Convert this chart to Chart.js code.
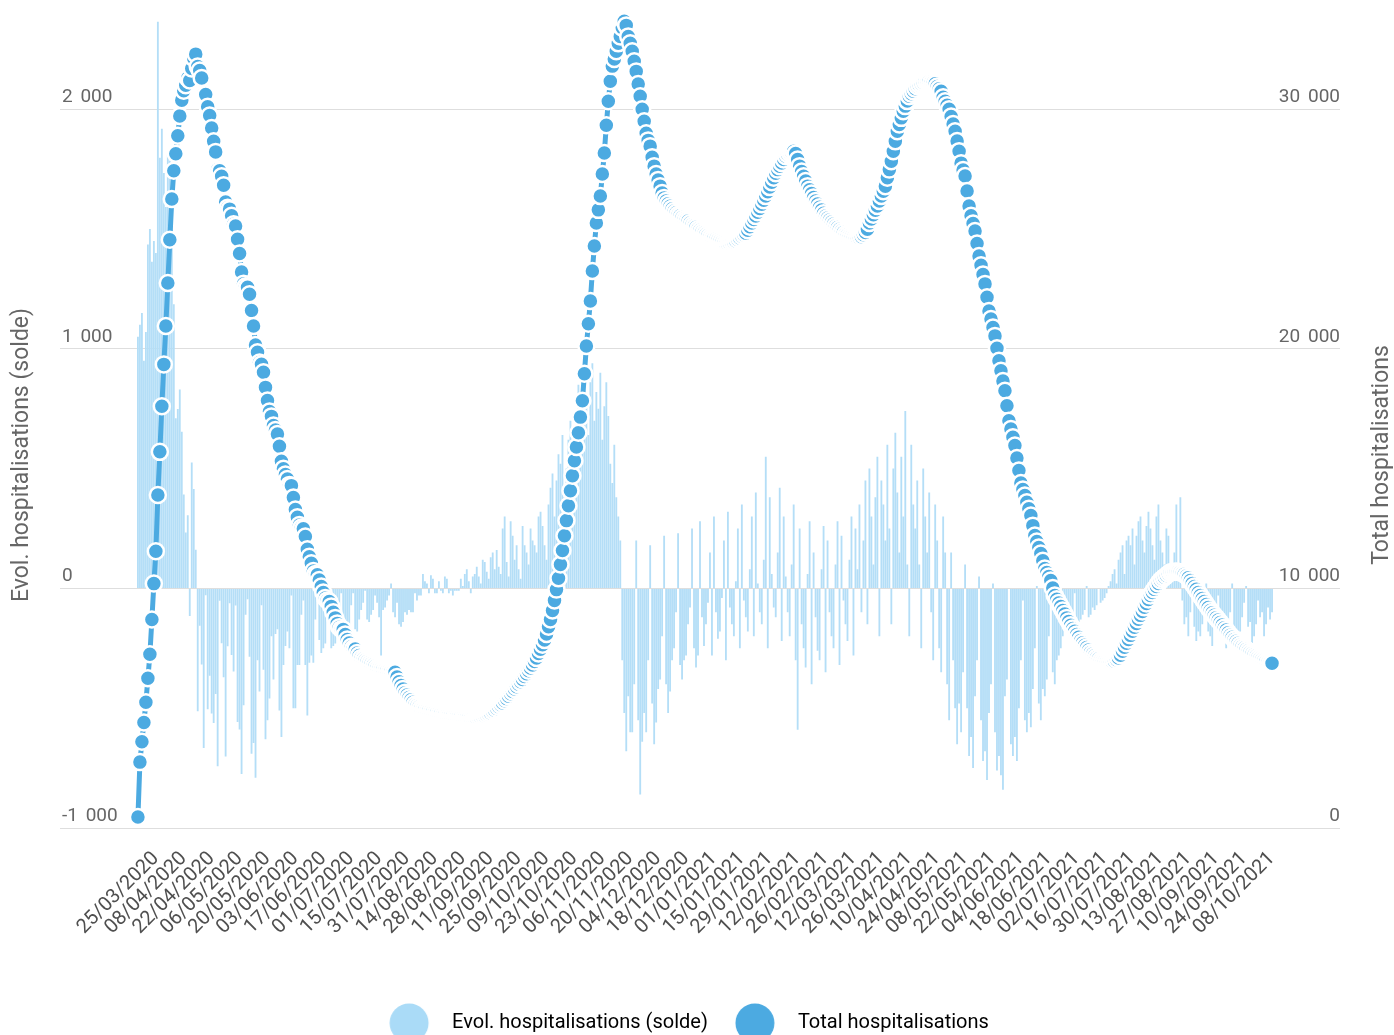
<!DOCTYPE html>
<html>
<head>
<meta charset="utf-8">
<script src="https://cdn.jsdelivr.net/npm/chart.js@4.4.1/dist/chart.umd.min.js"></script>
<style>
html,body{margin:0;padding:0;background:#fff;}
#wrap{width:1394px;height:1035px;}
</style>
</head>
<body>
<div id="wrap"><canvas id="c" width="1394" height="1035"></canvas></div>
<script>
// ---- Data ----
const seriesBarLabel = 'Evol. hospitalisations (solde)';
const seriesLineLabel = 'Total hospitalisations';

// Daily total hospitalisations (right axis)
const totalHosp = [
460,2750,3600,4400,5250,6250,7250,8700,10200,11550,
13900,15700,17600,19350,20950,22750,24550,26250,27430,28140,
28890,29720,30380,30770,31000,31300,31200,31700,32130,32300,
31780,31620,31300,30640,30610,30100,29740,29220,28660,28220,
27480,27430,27200,26830,26130,25890,25830,25550,25200,25130,
24570,23980,23210,22720,22610,22570,22280,21600,20950,20160,
19860,19430,19360,19020,18390,17840,17380,17180,16800,16610,
16440,15930,15310,14990,14750,14570,14320,14290,13790,13290,
12970,12650,12540,12490,12170,11630,11320,11050,10730,10600,
10570,10350,10080,9830,9600,9500,9450,9250,9000,8770,
8540,8380,8300,8280,8080,7870,7720,7560,7490,7470,
7300,7200,7100,7050,7000,6950,6900,6850,6800,6750,
6700,6680,6650,6620,6600,6580,6560,6540,6520,6500,
6300,6100,5950,5800,5650,5550,5450,5350,5250,5150,
5100,5050,5000,4980,4950,4920,4900,4880,4860,4840,
4820,4800,4780,4760,4740,4720,4700,4690,4680,4670,
4660,4650,4640,4630,4620,4610,4600,4590,4590,4580,
4580,4600,4620,4650,4680,4720,4760,4800,4860,4920,
4990,5060,5140,5220,5310,5400,5500,5600,5700,5800,
5900,6000,6100,6200,6320,6440,6560,6680,6800,6950,
7100,7280,7460,7650,7850,8100,8400,8700,9080,9500,
9950,10420,11000,11580,12200,12830,13450,14080,14700,15330,
15900,16500,17150,17830,18960,20120,21050,22000,23250,24290,
25250,25800,26375,27300,28170,29330,30330,31170,31800,32100,
32420,32750,33040,33400,33670,33500,33040,32750,32420,32000,
31580,31050,30540,30000,29500,29000,28700,28460,28000,27625,
27300,27050,26790,26500,26300,26170,26050,25950,25850,25750,
25680,25600,25550,25480,25420,25380,25330,25250,25180,25125,
25070,25000,24950,24890,24830,24780,24730,24680,24640,24610,
24580,24540,24500,24460,24420,24380,24380,24400,24430,24460,
24500,24560,24630,24700,24760,24830,24950,25100,25250,25400,
25540,25700,25860,26030,26200,26375,26560,26750,26950,27140,
27330,27480,27620,27760,27900,28040,28120,28180,28220,28250,
28150,27900,27625,27400,27200,27000,26790,26640,26480,26320,
26170,26040,25910,25790,25660,25540,25460,25380,25290,25210,
25125,25060,24990,24920,24860,24790,24760,24720,24690,24650,
24625,24620,24640,24680,24760,24860,24990,25250,25420,25600,
25780,25960,26170,26380,26580,26790,27140,27480,27830,28250,
28660,29080,29360,29640,29920,30130,30340,30540,30650,30750,
30860,30960,31010,31060,31120,31170,31180,31170,31140,31100,
31060,30950,30850,30750,30500,30330,30170,30000,29700,29380,
29080,28670,28250,27750,27460,27210,26590,25960,25550,25230,
24920,24400,23875,23490,23100,22710,22150,21580,21240,20890,
20540,20020,19500,19080,18660,18250,17620,17000,16650,16310,
15960,15440,14920,14400,14130,13875,13600,13320,13040,12620,
12210,11960,11710,11460,11150,10830,10660,10500,10330,10020,
9700,9550,9390,9240,9080,8930,8770,8620,8460,8330,
8210,8080,7960,7830,7730,7630,7530,7430,7330,7260,
7190,7120,7060,7000,6980,6960,6940,6930,6920,6930,
6960,7020,7100,7210,7380,7540,7710,7870,8040,8210,
8380,8540,8710,8875,9040,9210,9370,9540,9700,9830,
9960,10080,10210,10330,10400,10470,10540,10610,10670,10690,
10700,10710,10700,10670,10630,10590,10520,10440,10330,10210,
10080,9960,9830,9700,9580,9450,9330,9200,9080,8980,
8880,8780,8680,8580,8470,8360,8260,8150,8040,7960,
7870,7790,7710,7625,7570,7510,7450,7390,7330,7280,
7230,7180,7130,7080,7040,7000,6960,6930,6900,6875
];

// Daily change (left axis)
const evolHosp = [
1050,1100,1150,950,1070,1435,1500,1363,1450,1400,
2365,1797,1919,1734,1592,1811,1786,1703,1186,710,
749,830,654,392,233,305,-115,526,415,161,
-513,-156,-318,-666,-29,-504,-365,-522,-562,-441,
-742,-52,-229,-371,-702,-241,-62,-278,-347,-71,
-558,-589,-775,-488,-110,-45,-285,-690,-645,-790,
-300,-430,-70,-340,-630,-550,-460,-200,-380,-190,
-170,-510,-620,-320,-240,-180,-250,-30,-500,-500,
-320,-320,-110,-50,-320,-530,-310,-280,-310,-130,
-35,-215,-270,-250,-230,-100,-50,-250,-240,-230,
-160,-80,-20,-200,-210,-150,-160,-70,-20,-170,
-180,-130,-90,-60,-10,-130,-140,-110,-90,-30,
-60,-120,-280,-90,-80,-50,-30,20,-100,-120,
-60,-150,-160,-140,-100,-110,-90,-100,-100,-20,
-50,-30,-30,60,30,20,-20,55,40,-20,
-20,30,-10,-20,50,40,-20,-10,-30,-10,
-10,-10,40,10,60,80,30,-20,50,60,
90,50,20,120,110,70,40,130,150,80,
160,90,60,250,300,110,50,280,220,120,
180,80,40,260,180,150,100,250,200,180,
150,300,320,260,180,120,350,420,480,300,
450,560,520,640,380,500,620,700,640,420,
680,850,760,600,900,780,640,860,940,700,
820,750,900,620,760,860,720,520,440,600,
380,300,200,-300,-520,-680,-450,-600,-600,-400,
200,-550,-860,-640,-520,-600,-300,180,-480,-650,
-560,-420,-380,-200,220,-400,-520,-430,-300,-250,
-100,230,-320,-380,-300,-280,-150,-80,250,-250,
-330,-280,280,-120,-240,-150,-60,150,-280,300,
-100,-210,-180,-40,200,-300,320,-80,-150,-200,
30,250,-250,350,-50,-120,-180,80,300,-200,
400,20,-100,-150,120,550,-250,380,60,-80,
-120,150,420,-220,300,50,-100,-200,100,350,
-300,-590,250,-150,-250,-330,60,280,-400,150,
-120,-260,-300,80,260,-350,200,-100,-200,-250,
100,280,-320,220,-50,-150,-220,120,300,-280,
250,80,350,-100,200,450,-150,500,300,100,
380,550,-200,450,350,200,600,250,-150,500,
650,400,150,550,300,740,100,-200,600,350,
250,450,100,-250,500,300,150,400,-100,-300,
350,200,-250,-350,300,150,-400,-550,150,-300,
-500,-650,-480,-600,-350,100,-500,-700,-620,-750,
-450,-300,50,-550,-720,-680,-800,-520,-400,20,
-600,-760,-700,-780,-840,-450,-380,0,-650,-700,
-620,-720,-500,-300,-50,-550,-600,-520,-580,-420,
-250,10,-480,-550,-420,-450,-380,-200,-50,-350,
-400,-300,-280,-250,-200,-150,-100,-180,-160,-120,
-20,-160,-140,-130,-110,-90,10,-120,-110,-80,
-90,-70,0,-60,-50,-40,-20,10,30,60,
80,20,120,150,180,60,200,220,180,250,
100,220,280,300,200,150,260,320,250,180,
120,300,350,200,150,100,250,220,80,50,
150,350,60,380,-50,-150,-120,-200,-100,50,
-160,-220,-180,-200,-150,-80,20,-180,-200,-240,
-160,-130,-30,-150,-190,-220,-250,-200,-100,20,
-170,-250,-210,-180,-120,-60,10,-160,-140,-280,
-200,-150,-50,-120,-100,-200,-150,-80,-130,-100
];

// Tick labels shown on the x axis (every 14th day)
const tickLabels = [
'25/03/2020','08/04/2020','22/04/2020','06/05/2020','20/05/2020','03/06/2020','17/06/2020',
'01/07/2020','15/07/2020','31/07/2020','14/08/2020','28/08/2020','11/09/2020','25/09/2020',
'09/10/2020','23/10/2020','06/11/2020','20/11/2020','04/12/2020','18/12/2020','01/01/2021',
'15/01/2021','29/01/2021','12/02/2021','26/02/2021','12/03/2021','26/03/2021','10/04/2021',
'24/04/2021','08/05/2021','22/05/2021','04/06/2021','18/06/2021','02/07/2021','16/07/2021',
'30/07/2021','13/08/2021','27/08/2021','10/09/2021','24/09/2021','08/10/2021'
];
const firstTickIndex = 9;
const tickStep = 14;
const leftTicks = [-1000, 0, 1000, 2000];
const rightTicks = [0, 10000, 20000, 30000];

// ---- Styling ----
const LINE_BLUE = '#4caae1';
const BAR_BLUE = '#b4def7';
const LEGEND_LIGHT = '#aadbf7';
const FONT = 'Roboto, "Liberation Sans", Arial, sans-serif';

function fmt(v) {
  const s = Math.abs(v).toString().replace(/\B(?=(\d{3})+(?!\d))/g, '\u2009\u2009');
  return (v < 0 ? '-' : '') + s;
}

function legendDot(color) {
  const c = document.createElement('canvas');
  c.width = 53; c.height = 44;
  const g = c.getContext('2d');
  g.fillStyle = color;
  g.beginPath(); g.arc(20, 22, 19.5, 0, Math.PI * 2); g.fill();
  return c;
}

const axisTitlePlugin = {
  id: 'axisTitles',
  afterDraw(chart) {
    const ctx = chart.ctx;
    ctx.save();
    ctx.font = '23px ' + FONT;
    ctx.fillStyle = '#666';
    ctx.textAlign = 'center';
    ctx.textBaseline = 'middle';
    const items = [[seriesBarLabel, 22], [seriesLineLabel, chart.width - 12]];
    items.forEach(([t, x]) => {
      ctx.save();
      ctx.translate(x, 455);
      ctx.rotate(-Math.PI / 2);
      ctx.fillText(t, 0, 0);
      ctx.restore();
    });
    ctx.restore();
  }
};

const barData = evolHosp.map((v, i) => ({x: i, y: v}));
const lineData = totalHosp.map((v, i) => ({x: i, y: v}));

new Chart(document.getElementById('c'), {
  data: {
    datasets: [
      {
        type: 'bar', label: seriesBarLabel, data: barData, yAxisID: 'y', xAxisID: 'x',
        backgroundColor: BAR_BLUE, borderWidth: 0,
        barPercentage: 1.0, categoryPercentage: 0.92, order: 2
      },
      {
        type: 'line', label: seriesLineLabel, data: lineData, yAxisID: 'y1', xAxisID: 'x',
        borderColor: LINE_BLUE, borderWidth: 5, tension: 0,
        pointRadius: 8, pointBackgroundColor: LINE_BLUE,
        pointBorderColor: '#ffffff', pointBorderWidth: 2.5,
        clip: false, order: 1
      }
    ]
  },
  options: {
    responsive: false,
    animation: false,
    events: [],
    layout: { padding: { top: 12, left: 0, right: 16, bottom: -8 } },
    plugins: {
      tooltip: { enabled: false },
      legend: {
        display: true,
        position: 'bottom',
        labels: {
          usePointStyle: true,
          pointStyleWidth: 53,
          padding: 27,
          color: '#555',
          font: { family: FONT, size: 20 },
          generateLabels: () => [
            { text: seriesBarLabel, pointStyle: legendDot(LEGEND_LIGHT), fillStyle: LEGEND_LIGHT, strokeStyle: 'rgba(0,0,0,0)', lineWidth: 0, hidden: false, datasetIndex: 0 },
            { text: seriesLineLabel, pointStyle: legendDot(LINE_BLUE), fillStyle: LINE_BLUE, strokeStyle: 'rgba(0,0,0,0)', lineWidth: 0, hidden: false, datasetIndex: 1 }
          ]
        }
      }
    },
    scales: {
      x: {
        type: 'linear',
        position: 'bottom',
        offset: false,
        min: -39.1,
        max: 603.1,
        grid: { display: false, drawTicks: false, offset: false },
        border: { display: false },
        afterBuildTicks: (s) => { s.ticks = tickLabels.map((_, k) => ({ value: firstTickIndex + k * tickStep })); },
        afterFit: (s) => { s.height = 158; },
        ticks: {
          autoSkip: false,
          minRotation: 45, maxRotation: 45,
          padding: 19,
          color: '#4f4f4f',
          font: { family: FONT, size: 20 },
          callback: (v, i) => tickLabels[i]
        }
      },
      y: {
        type: 'linear',
        position: 'left',
        min: -1000, max: 2400,
        afterBuildTicks: (s) => { s.ticks = leftTicks.map(v => ({ value: v })); },
        afterFit: (s) => { s.width = 60; },
        grid: { color: '#dedede', lineWidth: 1, drawTicks: false },
        border: { display: false },
        ticks: {
          mirror: true, padding: 2, labelOffset: -12,
          color: '#666', font: { family: FONT, size: 19 },
          callback: (v) => fmt(v)
        }
      },
      y1: {
        type: 'linear',
        position: 'right',
        min: 0, max: 34000,
        afterBuildTicks: (s) => { s.ticks = rightTicks.map(v => ({ value: v })); },
        afterFit: (s) => { s.width = 38; },
        grid: { display: false, drawTicks: false },
        border: { display: false },
        ticks: {
          mirror: true, padding: 0, labelOffset: -12,
          color: '#666', font: { family: FONT, size: 19 },
          callback: (v) => fmt(v)
        }
      }
    }
  },
  plugins: [axisTitlePlugin]
});
</script>
</body>
</html>
